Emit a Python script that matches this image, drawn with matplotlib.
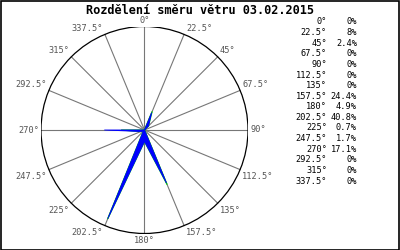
import numpy as np
import matplotlib
matplotlib.use("Agg")
import matplotlib.pyplot as plt
from matplotlib.patches import Circle, Rectangle

title = "Rozdělení směru větru 03.02.2015"
directions = [0, 22.5, 45, 67.5, 90, 112.5, 135, 157.5, 180, 202.5, 225, 247.5, 270, 292.5, 315, 337.5]
dir_labels = ["0°", "22.5°", "45°", "67.5°", "90°", "112.5°", "135°", "157.5°",
              "180°", "202.5°", "225°", "247.5°", "270°", "292.5°", "315°", "337.5°"]
share = [0, 8, 2.4, 0, 0, 0, 0, 24.4, 4.9, 40.8, 0.7, 1.7, 17.1, 0, 0, 0]
share_labels = ["0%", "8%", "2.4%", "0%", "0%", "0%", "0%", "24.4%", "4.9%", "40.8%",
                "0.7%", "1.7%", "17.1%", "0%", "0%", "0%"]
second = [0, 8.4, 2.4, 0, 0, 0, 0, 25.0, 4.9, 40.8, 0.7, 1.7, 9.8, 0, 0, 0]
rmax = 44.0

W, H = 400, 250
fig = plt.figure(figsize=(W / 100, H / 100), dpi=100)
fig.patch.set_facecolor("white")

cx, cy, R = 144.5, 130.0, 103.5
ax = fig.add_axes([(cx - R) / W, (H - cy - R) / H, 2 * R / W, 2 * R / H])
ax.set_xlim(-rmax, rmax)
ax.set_ylim(-rmax, rmax)
ax.set_aspect("equal")
ax.axis("off")

th = np.deg2rad(directions)
mono = "DejaVu Sans Mono"

# spokes
for t in th:
    ax.plot([0, rmax * np.sin(t)], [0, rmax * np.cos(t)], color="#777777", lw=0.8, zorder=1)

# outer circle
ax.add_patch(Circle((0, 0), rmax, fill=False, ec="black", lw=0.9, zorder=2))

# second series (green outline)
s2 = np.array(second + second[:1])
t2 = np.append(th, th[0])
ax.plot(s2 * np.sin(t2), s2 * np.cos(t2), color="#00cc00", lw=0.9, zorder=3)

# main filled polygon
v = np.array(share)
ax.fill(v * np.sin(th), v * np.cos(th), color="#0000ff", lw=0.6, ec="#0000ff", zorder=4)

# direction labels
for t, lab in zip(th, dir_labels):
    s, c = np.sin(t), np.cos(t)
    ha = "left" if s > 1e-6 else ("right" if s < -1e-6 else "center")
    va = "bottom" if c > 1e-6 else ("top" if c < -1e-6 else "center")
    ox = 1.5 if ha == "left" else (-1.5 if ha == "right" else 0)
    oy = 1.0 if va == "bottom" else (-2.0 if va == "top" else 0)
    ax.annotate(lab, (rmax * s, rmax * c), xytext=(ox, oy), textcoords="offset points",
                ha=ha, va=va, fontsize=6.2, family=mono, color="#555555", zorder=5)

# title
fig.text(0.5, 1 - 10 / H, title, ha="center", va="center", fontsize=8.6,
         family=mono, weight="bold", color="black")

# table
y0, dy = 22.0, 10.6
for i, (a, p) in enumerate(zip(dir_labels, share_labels)):
    y = 1 - (y0 + i * dy) / H
    fig.text(327 / W, y, a, ha="right", va="center", fontsize=6.2, family=mono, color="black")
    fig.text(357 / W, y, p, ha="right", va="center", fontsize=6.2, family=mono, color="black")

# figure border
fig.add_artist(Rectangle((0.5 / W, 0.5 / H), 1 - 1.5 / W, 1 - 1.5 / H, transform=fig.transFigure,
                         fill=False, ec="black", lw=1.2))

fig.savefig("out.png", dpi=100)
